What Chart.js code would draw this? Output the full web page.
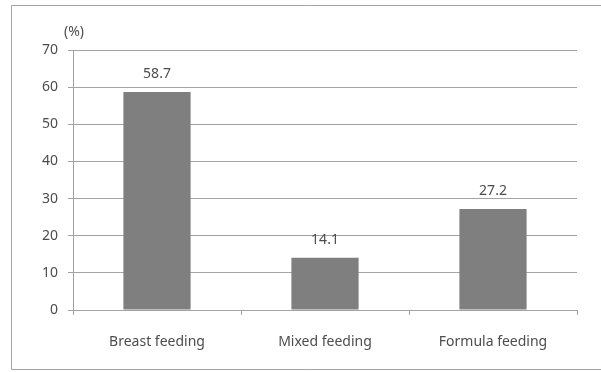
<!DOCTYPE html>
<html>
<head>
<meta charset="utf-8">
<script src="https://cdn.jsdelivr.net/npm/chart.js@4/dist/chart.umd.min.js"></script>
<style>
  html, body { margin: 0; padding: 0; background: #ffffff; }
  #wrap { position: relative; width: 601px; height: 372px; }
</style>
</head>
<body>
<div id="wrap"><canvas id="c" width="601" height="372"></canvas></div>
<script>
// Feeding type shares (%)
const categories = ['Breast feeding', 'Mixed feeding', 'Formula feeding'];
const shares = [58.7, 14.1, 27.2];
const yTicks = [0, 10, 20, 30, 40, 50, 60, 70];
const unitLabel = '(%)';

const FONT = '"Noto Sans", "DejaVu Sans", sans-serif';
const TEXT = '#4d4d4d';
const LINE = '#a3a3a3';

// Frame around the figure plus unit caption and value labels
const decorations = {
  id: 'decorations',
  afterDraw(chart) {
    const ctx = chart.ctx;
    const { left, top } = chart.chartArea;
    ctx.save();
    ctx.strokeStyle = LINE;
    ctx.lineWidth = 1;
    ctx.beginPath();
    ctx.moveTo(601, 5.5);
    ctx.lineTo(11.5, 5.5);
    ctx.lineTo(11.5, 369.5);
    ctx.lineTo(601, 369.5);
    ctx.stroke();

    ctx.fillStyle = TEXT;
    ctx.font = '14px ' + FONT;
    ctx.textAlign = 'center';
    ctx.textBaseline = 'middle';
    ctx.fillText(unitLabel, left + 1, top - 18);

    const meta = chart.getDatasetMeta(0);
    meta.data.forEach((bar, i) => {
      ctx.fillText(shares[i].toFixed(1), bar.x, bar.y - 18);
    });
    ctx.restore();
  }
};

new Chart(document.getElementById('c'), {
  type: 'bar',
  data: {
    labels: categories,
    datasets: [{
      data: shares,
      backgroundColor: '#7f7f7f',
      borderWidth: 0,
      categoryPercentage: 1,
      barPercentage: 0.4
    }]
  },
  options: {
    responsive: false,
    animation: false,
    devicePixelRatio: 1,
    layout: { padding: { left: 0, right: 24, top: 50, bottom: 0 } },
    plugins: { legend: { display: false }, tooltip: { enabled: false } },
    scales: {
      x: {
        grid: { offset: true, drawOnChartArea: false, drawTicks: true, tickLength: 5, color: LINE },
        border: { color: LINE },
        ticks: { color: TEXT, font: { family: FONT, size: 14 }, padding: 19, maxRotation: 0 },
        afterFit(scale) { scale.height = 62; }
      },
      y: {
        min: 0,
        max: 70,
        afterBuildTicks(scale) { scale.ticks = yTicks.map(v => ({ value: v })); },
        grid: { color: LINE, tickLength: 5 },
        border: { color: LINE },
        ticks: { color: TEXT, font: { family: FONT, size: 14 }, padding: 10 },
        afterFit(scale) { scale.width = 73; }
      }
    }
  },
  plugins: [decorations]
});
</script>
</body>
</html>
